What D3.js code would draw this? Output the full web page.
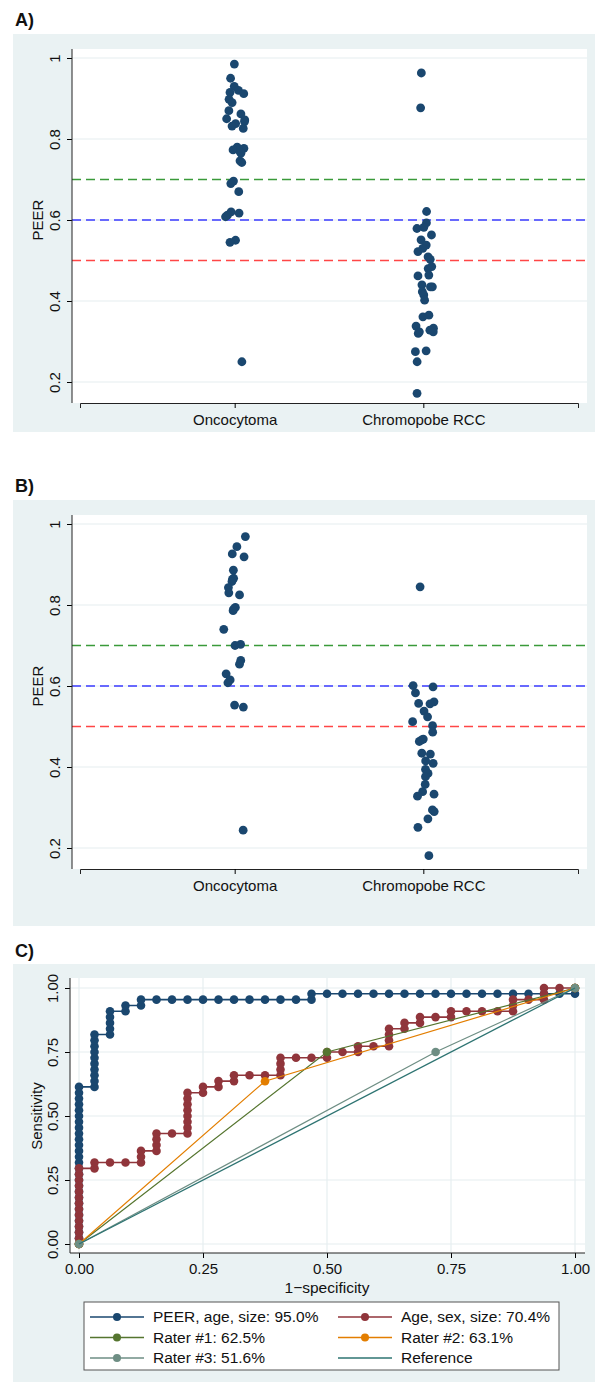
<!DOCTYPE html>
<html>
<head>
<meta charset="utf-8">
<script src="https://cdn.jsdelivr.net/npm/d3@7"></script>
<style>
  body { margin: 0; background: #fff; }
  text { font-family: "Liberation Sans", Arial, sans-serif; fill: #111; }
</style>
</head>
<body>
<div id="canvas"></div>
<script>
// ---- data ----
const groups = ["Oncocytoma", "Chromopobe RCC"];
const peerTicks = [0.2, 0.4, 0.6, 0.8, 1];
const cutoffs = [0.7, 0.6, 0.5];

// panel A
const onco_A = [0.985,0.95,0.93,0.92,0.915,0.912,0.898,0.89,0.87,0.862,0.85,0.847,0.843,0.838,0.832,0.826,
  0.78,0.777,0.773,0.768,0.765,0.746,0.742,0.696,0.69,0.67,0.62,0.617,0.612,0.608,0.55,0.545,0.25];
const chromo_A = [0.963,0.877,0.621,0.593,0.579,0.582,0.563,0.551,0.538,0.53,0.522,0.509,0.503,0.48,0.485,
  0.462,0.464,0.44,0.435,0.435,0.423,0.415,0.402,0.365,0.361,0.333,0.324,0.32,0.338,0.328,0.324,
  0.277,0.275,0.25,0.172];

// panel B
const onco_B = [0.969,0.944,0.926,0.919,0.886,0.866,0.863,0.858,0.843,0.83,0.825,0.786,0.794,0.79,0.74,
  0.70,0.703,0.663,0.654,0.63,0.615,0.608,0.553,0.548,0.244];
const chromo_B = [0.845,0.598,0.601,0.583,0.557,0.561,0.556,0.538,0.524,0.512,0.502,0.486,0.469,0.463,0.467,
  0.432,0.434,0.415,0.409,0.394,0.384,0.376,0.357,0.339,0.328,0.333,0.294,0.29,0.272,0.251,0.181];

// panel C: ROC points as (false positives, true positives) counts
const nNeg = 32;
const nPos = 44;
const peerFP = [0,0,0,0,0,0,0,0,0,0,0,0,0,0,0,0,0,0,0,0,0,0,0,0,0,0,0,0,
  1,1,1,1,1,1,1,1,1,1, 2,2,2,2,2, 3,3, 4,4, 5,6,7,8,9,10,11,12,13,14, 15,15,
  16,17,18,19,20,21,22,23,24,25,26,27,28,29,30,31, 32,32];
const peerTP = [0,1,2,3,4,5,6,7,8,9,10,11,12,13,14,15,16,17,18,19,20,21,22,23,24,25,26,27,
  27,28,29,30,31,32,33,34,35,36, 36,37,38,39,40, 40,41, 41,42, 42,42,42,42,42,42,42,42,42,42, 42,43,
  43,43,43,43,43,43,43,43,43,43,43,43,43,43,43,43, 43,44];
const ageFP = [0,0,0,0,0,0,0,0,0,0,0,0,0,0, 1,1, 2, 3, 4,4,4, 5,5,5,5, 6, 7,7,7,7,7,7,7,7, 8,8, 9,9,
  10,10, 11, 12, 13,13,13,13, 14, 15, 16,16, 17, 18,18, 19, 20,20,20,20, 21,21, 22,22, 23, 24,24,
  25, 26, 27, 28,28,28, 29, 30,30,30, 31, 32];
const ageTP = [0,1,2,3,4,5,6,7,8,9,10,11,12,13, 13,14, 14, 14, 14,15,16, 16,17,18,19, 19,
  19,20,21,22,23,24,25,26, 26,27, 27,28, 28,29, 29, 29, 29,30,31,32, 32, 32, 32,33, 33, 33,34, 34,
  34,35,36,37, 37,38, 38,39, 39, 39,40, 40, 40, 40, 40,41,42, 42, 42,43,44, 44, 44];
const rater1 = { fpr: [0, 0.5, 1], sens: [0, 0.75, 1] };
const rater2 = { fpr: [0, 0.375, 1], sens: [0, 0.636, 1] };
const rater3 = { fpr: [0, 0.719, 1], sens: [0, 0.75, 1] };
const rocTicks = [0, 0.25, 0.5, 0.75, 1];
const legendNames = ["PEER, age, size: 95.0%", "Age, sex, size: 70.4%", "Rater #1: 62.5%",
  "Rater #2: 63.1%", "Rater #3: 51.6%", "Reference"];

// ---- styles ----
const w = 595;
const h = 1382;
const bg = "#eaf2f3";
const grid = "#e6eef0";
const navy = "#1a476f";
const cutColors = ["#3a9a3a", "#3b3bff", "#ff4646"];
const rocColors = ["#1a476f", "#90353b", "#55752f", "#e37e00", "#6e8e84", "#2e7472"];

let svg = d3.select("#canvas")
  .append("svg")
  .attr("width", w)
  .attr("height", h);

function rotateLabels(axisG, size){
  axisG.selectAll("text")
    .attr("transform", "translate(-12,0) rotate(-90)")
    .attr("x", 0).attr("y", 0).attr("dy", 0)
    .attr("text-anchor", "middle")
    .style("font-size", size);
}

function peerPanel(label, top, boxH, onco, chromo, seed){
  const plot = { left: 72, right: 587, top: top + 15, bottom: top + 369 };

  svg.append("rect")
    .attr("x", 13).attr("y", top)
    .attr("width", w - 13).attr("height", boxH)
    .attr("fill", bg);
  svg.append("rect")
    .attr("x", plot.left).attr("y", plot.top)
    .attr("width", plot.right - plot.left).attr("height", plot.bottom - plot.top)
    .attr("fill", "#fff");

  svg.append("text")
    .attr("x", 15).attr("y", top - 8)
    .style("font-size", "18px").style("font-weight", "bold")
    .text(label);

  let x = d3.scalePoint()
    .domain(groups)
    .range([80, 578])
    .padding(0.82);
  let y = d3.scaleLinear()
    .domain([0.2, 1])
    .range([top + 348, top + 24]);

  // grid
  svg.append("g")
    .selectAll("line")
    .data(peerTicks)
    .enter()
      .append("line")
      .attr("x1", plot.left).attr("x2", plot.right)
      .attr("y1", function(d){ return y(d); })
      .attr("y2", function(d){ return y(d); })
      .attr("stroke", grid).attr("stroke-width", 1.2);

  // cut-off lines
  svg.append("g")
    .selectAll("line")
    .data(cutoffs)
    .enter()
      .append("line")
      .attr("x1", plot.left).attr("x2", plot.right)
      .attr("y1", function(d){ return y(d); })
      .attr("y2", function(d){ return y(d); })
      .attr("stroke", function(d,i){ return cutColors[i]; })
      .attr("stroke-width", 1.5)
      .attr("stroke-dasharray", "9,5");

  // jittered points (seeded so it is stable)
  let jit = d3.randomUniform.source(d3.randomLcg(seed))(-11, 11);
  let pts = [];
  onco.forEach(function(v){ pts.push({ g: groups[0], v: v, j: jit() }); });
  chromo.forEach(function(v){ pts.push({ g: groups[1], v: v, j: jit() }); });

  svg.append("g")
    .selectAll("circle")
    .data(pts)
    .enter()
      .append("circle")
      .attr("cx", function(d){ return x(d.g) + d.j; })
      .attr("cy", function(d){ return y(d.v); })
      .attr("r", 4.4)
      .attr("fill", navy);

  // axes
  let yAxis = svg.append("g")
    .attr("transform", "translate(" + plot.left + ",0)")
    .call(d3.axisLeft(y).tickValues(peerTicks).tickFormat(d3.format("")).tickSize(5).tickSizeOuter(0));
  yAxis.select(".domain").remove();
  rotateLabels(yAxis, "15px");
  svg.append("line")
    .attr("x1", plot.left).attr("x2", plot.left)
    .attr("y1", plot.top).attr("y2", plot.bottom)
    .attr("stroke", "#222");

  let xAxis = svg.append("g")
    .attr("transform", "translate(0," + plot.bottom + ")")
    .call(d3.axisBottom(x).tickSize(5).tickSizeOuter(5));
  xAxis.selectAll("text")
    .attr("y", 8).attr("dy", "0.9em")
    .style("font-size", "15px");
  xAxis.select(".domain").attr("stroke", "#222");

  svg.append("text")
    .attr("transform", "translate(43," + y(0.6) + ") rotate(-90)")
    .attr("text-anchor", "middle")
    .style("font-size", "15px")
    .text("PEER");
}

peerPanel("A)", 34, 398, onco_A, chromo_A, 0.21);
peerPanel("B)", 500, 426, onco_B, chromo_B, 0.67);

// ---- panel C: ROC ----
function rocPanel(){
  const top = 964;
  const plot = { left: 70, right: 585, top: 978, bottom: 1253 };

  svg.append("rect")
    .attr("x", 13).attr("y", top)
    .attr("width", w - 13).attr("height", h - top)
    .attr("fill", bg);
  svg.append("rect")
    .attr("x", plot.left).attr("y", plot.top)
    .attr("width", plot.right - plot.left).attr("height", plot.bottom - plot.top)
    .attr("fill", "#fff");
  svg.append("text")
    .attr("x", 15).attr("y", top - 7)
    .style("font-size", "18px").style("font-weight", "bold")
    .text("C)");

  let x = d3.scaleLinear().domain([0, 1]).range([79, 575]);
  let y = d3.scaleLinear().domain([0, 1]).range([1244, 988]);

  let g = svg.append("g");
  g.selectAll(".gx")
    .data(rocTicks)
    .enter()
      .append("line")
      .attr("x1", function(d){ return x(d); }).attr("x2", function(d){ return x(d); })
      .attr("y1", plot.top).attr("y2", plot.bottom)
      .attr("stroke", grid).attr("stroke-width", 1.2);
  g.selectAll(".gy")
    .data(rocTicks)
    .enter()
      .append("line")
      .attr("x1", plot.left).attr("x2", plot.right)
      .attr("y1", function(d){ return y(d); }).attr("y2", function(d){ return y(d); })
      .attr("stroke", grid).attr("stroke-width", 1.2);

  let line = d3.line()
    .x(function(d){ return x(d[0]); })
    .y(function(d){ return y(d[1]); });

  let curves = [
    { pts: peerFP.map(function(f,i){ return [f / nNeg, peerTP[i] / nPos]; }), c: rocColors[0], lw: 1.6 },
    { pts: ageFP.map(function(f,i){ return [f / nNeg, ageTP[i] / nPos]; }), c: rocColors[1], lw: 1.6 },
    { pts: rater1.fpr.map(function(f,i){ return [f, rater1.sens[i]]; }), c: rocColors[2], lw: 1.2 },
    { pts: rater2.fpr.map(function(f,i){ return [f, rater2.sens[i]]; }), c: rocColors[3], lw: 1.2 },
    { pts: rater3.fpr.map(function(f,i){ return [f, rater3.sens[i]]; }), c: rocColors[4], lw: 1.2 }
  ];

  curves.forEach(function(cv){
    g.append("path")
      .datum(cv.pts)
      .attr("d", line)
      .attr("fill", "none")
      .attr("stroke", cv.c)
      .attr("stroke-width", cv.lw);
    g.append("g")
      .selectAll("circle")
      .data(cv.pts)
      .enter()
        .append("circle")
        .attr("cx", function(d){ return x(d[0]); })
        .attr("cy", function(d){ return y(d[1]); })
        .attr("r", 4.3)
        .attr("fill", cv.c);
  });

  g.append("path")
    .datum([[0, 0], [1, 1]])
    .attr("d", line)
    .attr("fill", "none")
    .attr("stroke", rocColors[5])
    .attr("stroke-width", 1.3);

  // axes
  let yAxis = svg.append("g")
    .attr("transform", "translate(" + plot.left + ",0)")
    .call(d3.axisLeft(y).tickValues(rocTicks).tickFormat(d3.format(".2f")).tickSize(5).tickSizeOuter(0));
  yAxis.select(".domain").remove();
  rotateLabels(yAxis, "15px");
  svg.append("line")
    .attr("x1", plot.left).attr("x2", plot.left)
    .attr("y1", plot.top).attr("y2", plot.bottom)
    .attr("stroke", "#222");

  let xAxis = svg.append("g")
    .attr("transform", "translate(0," + plot.bottom + ")")
    .call(d3.axisBottom(x).tickValues(rocTicks).tickFormat(d3.format(".2f")).tickSize(5).tickSizeOuter(0));
  xAxis.select(".domain").remove();
  xAxis.selectAll("text")
    .attr("y", 10)
    .style("font-size", "15px");
  svg.append("line")
    .attr("x1", plot.left).attr("x2", plot.right)
    .attr("y1", plot.bottom).attr("y2", plot.bottom)
    .attr("stroke", "#222");

  svg.append("text")
    .attr("x", x(0.5)).attr("y", 1293)
    .attr("text-anchor", "middle")
    .style("font-size", "15.5px")
    .text("1\u2212specificity");
  svg.append("text")
    .attr("transform", "translate(42," + y(0.5) + ") rotate(-90)")
    .attr("text-anchor", "middle")
    .style("font-size", "15px")
    .text("Sensitivity");

  // legend
  let lg = svg.append("g");
  lg.append("rect")
    .attr("x", 84).attr("y", 1302)
    .attr("width", 475).attr("height", 68)
    .attr("fill", "#fff")
    .attr("stroke", "#555").attr("stroke-width", 1);
  let item = lg.selectAll(".item")
    .data(legendNames)
    .enter()
      .append("g")
      .attr("transform", function(d,i){
        return "translate(" + (i % 2 === 0 ? 90 : 338) + "," + (1317 + Math.floor(i / 2) * 20.5) + ")";
      });
  item.append("line")
    .attr("x1", 0).attr("x2", 54)
    .attr("stroke", function(d,i){ return rocColors[i]; })
    .attr("stroke-width", 1.5);
  item.filter(function(d,i){ return i < 5; })
    .append("circle")
    .attr("cx", 27).attr("r", 4)
    .attr("fill", function(d){ return rocColors[legendNames.indexOf(d)]; });
  item.append("text")
    .attr("x", 63).attr("dy", "0.35em")
    .style("font-size", "15.5px")
    .text(function(d){ return d; });
}

rocPanel();
</script>
</body>
</html>
